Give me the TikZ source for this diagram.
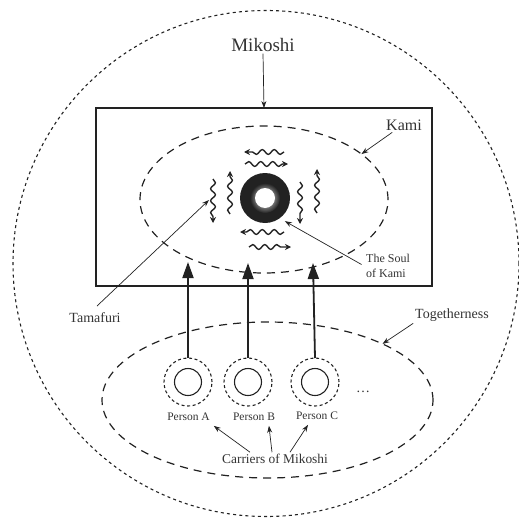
\documentclass[tikz,border=0pt]{standalone}
\usepackage{fontspec}
\setmainfont{Liberation Serif}
\usetikzlibrary{shapes.geometric,arrows.meta,decorations.pathmorphing}
\definecolor{ink}{HTML}{222222}
\definecolor{txt}{HTML}{333333}
\tikzset{
  lbl/.style={text=txt, inner sep=2pt, outer sep=0pt},
  outerdot/.style={draw=ink, line width=1.1pt, dash pattern=on 3pt off 3.2pt, inner sep=0pt, outer sep=0pt},
  bigdash/.style={draw=ink, line width=1.2pt, dash pattern=on 8pt off 6pt, inner sep=0pt, outer sep=0pt},
  pin/.style={draw=ink, line width=0.7pt, -{Stealth[length=7pt,width=5pt]}},
  lift/.style={draw=ink, line width=1.8pt, -{Triangle[length=16pt,width=11pt]}},
  wave/.style={draw=ink, line width=1.4pt, decorate,
    decoration={snake, amplitude=2.4pt, segment length=12pt, pre length=0pt, post length=5pt},
    -{Stealth[length=6pt,width=6pt]}},
  person/.style={circle, draw=ink, line width=1.1pt, minimum size=27pt, inner sep=0pt, outer sep=0pt},
  aura/.style={circle, draw=ink, line width=1.1pt, dash pattern=on 3pt off 2.6pt, minimum size=48pt, inner sep=0pt, outer sep=0pt}
}
\begin{document}
\begin{tikzpicture}[x=1pt,y=-1pt]
\useasboundingbox (0,0) rectangle (519,519);
% outer dotted circle
\node[circle, outerdot, minimum size=506pt] (outer) at (266,263.5) {};
% mikoshi box
\node[draw=ink, line width=1.3pt, minimum width=336pt, minimum height=178pt, inner sep=0pt, outer sep=0pt] (box) at (264,197) {};
\node[lbl, font=\fontsize{19}{22}\selectfont] (mik) at (263,45) {Mikoshi};
\draw[pin] (mik.south) -- (box.north);
% kami ellipse
\node[ellipse, bigdash, minimum width=248pt, minimum height=147pt] (kami) at (264,199.5) {};
\node[lbl, font=\fontsize{16}{19}\selectfont] (kamitxt) at (404,125) {Kami};
\draw[pin] ([xshift=8pt]kamitxt.south west) -- (kami.25);
% soul
\node[circle, fill=ink, minimum size=50pt, inner sep=0pt, outer sep=0pt] (soul) at (265,198) {};
\shade[inner color=white, outer color=ink] (soul.center) circle[radius=15pt];
\fill[white] (soul.center) circle[radius=10pt];
% wavy arrows
\draw[wave] (284,152) -- (244,152);
\draw[wave] (245,164) -- (288,164);
\draw[wave] (284,232) -- (240,232);
\draw[wave] (249,247) -- (291,247);
\draw[wave] (213,179) -- (213,223);
\draw[wave] (230,214) -- (230,171);
\draw[wave] (300,182) -- (300,224);
\draw[wave] (317,213) -- (317,169);
% tamafuri
\node[lbl, font=\fontsize{14}{17}\selectfont] (tam) at (95,318) {Tamafuri};
\coordinate (tamtip) at (209,200);
\draw[pin] ([xshift=2pt]tam.north) ++(0,-5) -- (tamtip);
% soul label
\node[lbl, font=\fontsize{12}{15}\selectfont, align=left] (soultxt) at (388,266) {The Soul\\of Kami};
\draw[pin, shorten <=3pt, shorten >=6pt] (soultxt.west) -- (soul.-54);
% togetherness
\node[ellipse, bigdash, minimum width=331pt, minimum height=156pt] (tog) at (267.5,400) {};
\node[lbl, font=\fontsize{14}{17}\selectfont] (togtxt) at (452,315) {Togetherness};
\draw[pin] (togtxt.south west) -- (tog.26);
% persons
\node[person] (pa) at (188,382) {};
\node[aura] (pao) at (188,382) {};
\node[person] (pb) at (248,382) {};
\node[aura] (pbo) at (248,382) {};
\node[person] (pc) at (315,382) {};
\node[aura] (pco) at (315,382) {};
\node[lbl, font=\fontsize{14}{17}\selectfont] (dots) at (363,392) {\dots};
\node[lbl, font=\fontsize{11.5}{14}\selectfont] (la) at (188.5,417) {Person A};
\node[lbl, font=\fontsize{11.5}{14}\selectfont] (lb) at (254,417) {Person B};
\node[lbl, font=\fontsize{11.5}{14}\selectfont] (lc) at (317,416) {Person C};
% lifting arrows
\coordinate (ta) at (188,262);
\coordinate (tb) at (248,263);
\coordinate (tc) at (313,263);
\draw[lift] (pao.north) -- (ta);
\draw[lift] (pbo.north) -- (tb);
\draw[lift] (pco.north) -- (tc);
% carriers
\node[lbl, font=\fontsize{13.4}{16}\selectfont] (car) at (275,459) {Carriers of Mikoshi};
\draw[pin] ([xshift=-25pt]car.north) -- ([xshift=2pt,yshift=-3pt]la.south east);
\draw[pin] ([xshift=-3pt]car.north) -- ([xshift=-8pt,yshift=-3pt]lb.south east);
\draw[pin] ([xshift=15pt]car.north) -- ([xshift=-9pt,yshift=-3pt]lc.south);
\end{tikzpicture}
\end{document}
